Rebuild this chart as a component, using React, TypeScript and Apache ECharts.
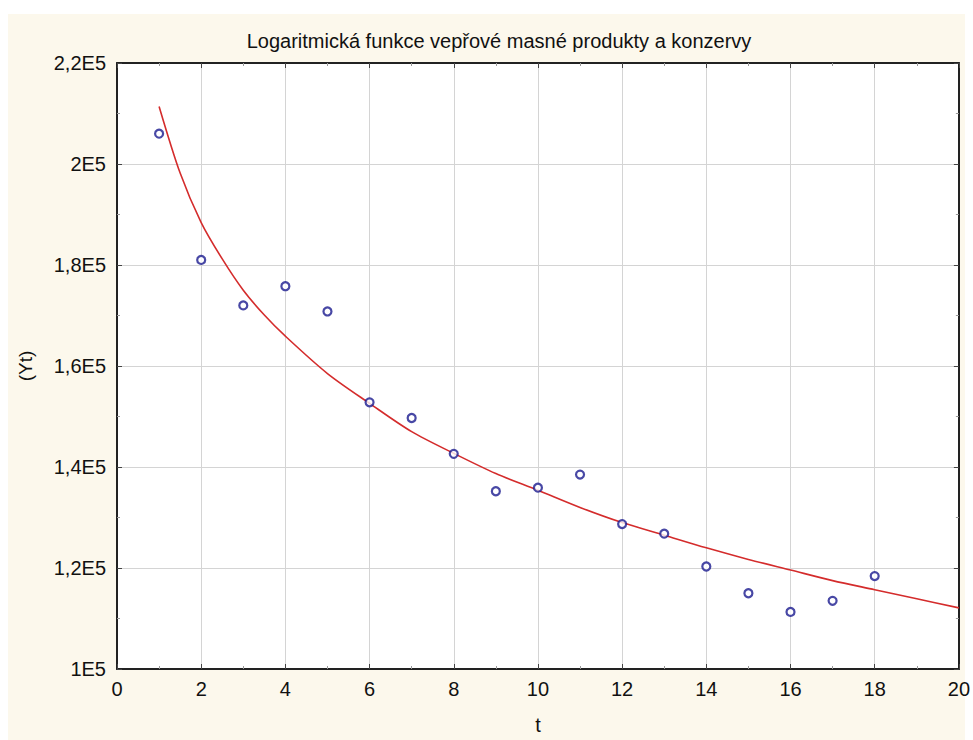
import React, { useEffect, useRef } from 'react';
import * as echarts from 'echarts';

// Observed data points (t, Yt)
const tValues = [1, 2, 3, 4, 5, 6, 7, 8, 9, 10, 11, 12, 13, 14, 15, 16, 17, 18];
const yValues = [
  206000, 181000, 172000, 175800, 170800, 152800, 149700, 142600, 135200,
  135900, 138500, 128700, 126800, 120300, 115000, 111300, 113500, 118400,
];

// Fitted logarithmic curve
const curveT = [1, 1.5, 2, 2.5, 3, 3.5, 4, 5, 6, 7, 8, 9, 10, 11, 12, 13, 14, 15, 16, 17, 18, 19, 20];
const curveValues = [
  211400, 198200, 188400, 181200, 175000, 170100, 165900, 158500, 152600, 147000, 142700,
  138700, 135400, 132000, 129000, 126500, 124000, 121700, 119600, 117500, 115700, 113900, 112100,
];

// Tick labels
const yTickLabels = ['1E5', '1,2E5', '1,4E5', '1,6E5', '1,8E5', '2E5', '2,2E5'];
const xTickLabels = ['0', '2', '4', '6', '8', '10', '12', '14', '16', '18', '20'];

const titleText = 'Logaritmická funkce vepřové masné produkty a konzervy';
const xName = 't';
const yName = '(Yt)';

export default function App() {
  const ref = useRef<HTMLDivElement>(null);

  useEffect(() => {
    if (!ref.current) return;
    const chart = echarts.init(ref.current, null, { renderer: 'svg' });
    const font = "'Liberation Sans', Arial, sans-serif";
    const axisLine = { show: true, onZero: false, lineStyle: { color: '#222', width: 2 } };
    const tick = { show: true, inside: true, length: 5, lineStyle: { color: '#444', width: 1 } };
    const minor = { show: true, splitNumber: 2, length: 3, lineStyle: { color: '#999', width: 1 } };
    const grid = { show: true, lineStyle: { color: '#d4d4d4', width: 1 } };

    chart.setOption({
      animation: false,
      backgroundColor: 'transparent',
      textStyle: { fontFamily: font },
      title: {
        text: titleText,
        left: 494,
        textAlign: 'center',
        top: 26,
        textStyle: { fontFamily: font, fontSize: 20, fontWeight: 'normal', color: '#111' },
      },
      grid: {
        left: 117,
        top: 63,
        right: 7,
        bottom: 69,
        show: true,
        backgroundColor: '#ffffff',
        borderWidth: 0,
      },
      xAxis: [
        {
          type: 'value',
          min: 0,
          max: 20,
          interval: 2,
          position: 'bottom',
          axisLine,
          axisTick: tick,
          minorTick: minor,
          splitLine: grid,
          axisLabel: {
            fontSize: 20,
            color: '#111',
            margin: 10,
            fontFamily: font,
            formatter: (v: number) => xTickLabels[Math.round(v / 2)] ?? String(v),
          },
          name: xName,
          nameLocation: 'middle',
          nameGap: 46,
          nameTextStyle: { fontSize: 20, color: '#111', fontFamily: font },
        },
        {
          type: 'value',
          min: 0,
          max: 20,
          interval: 2,
          position: 'top',
          axisLine,
          axisTick: tick,
          minorTick: minor,
          splitLine: { show: false },
          axisLabel: { show: false },
        },
      ],
      yAxis: [
        {
          type: 'value',
          min: 100000,
          max: 220000,
          interval: 20000,
          position: 'left',
          axisLine,
          axisTick: tick,
          minorTick: minor,
          splitLine: grid,
          axisLabel: {
            fontSize: 20,
            color: '#111',
            margin: 11,
            fontFamily: font,
            formatter: (v: number) => yTickLabels[Math.round((v - 100000) / 20000)] ?? String(v),
          },
          name: yName,
          nameLocation: 'middle',
          nameGap: 82,
          nameTextStyle: { fontSize: 19, color: '#111', fontFamily: font },
        },
        {
          type: 'value',
          min: 100000,
          max: 220000,
          interval: 20000,
          position: 'right',
          axisLine,
          axisTick: tick,
          minorTick: minor,
          splitLine: { show: false },
          axisLabel: { show: false },
        },
      ],
      series: [
        {
          type: 'line',
          xAxisIndex: 0,
          yAxisIndex: 0,
          data: curveT.map((t, i) => [t, curveValues[i]]),
          smooth: 0.3,
          showSymbol: false,
          symbol: 'none',
          lineStyle: { color: '#d42c2c', width: 1.6 },
          z: 3,
        },
        {
          type: 'scatter',
          xAxisIndex: 0,
          yAxisIndex: 0,
          data: tValues.map((t, i) => [t, yValues[i]]),
          symbol: 'circle',
          symbolSize: 8,
          itemStyle: { color: '#ffffff', borderColor: '#1a1a8e', borderWidth: 2.2 },
          z: 4,
        },
      ],
    });

    return () => chart.dispose();
  }, []);

  return (
    <div style={{ position: 'fixed', left: 0, top: 0, width: 973, height: 740, background: '#ffffff' }}>
      <div
        style={{ position: 'absolute', left: 8, top: 14, width: 957, height: 726, background: '#fcf8ec' }}
      />
      <div ref={ref} style={{ position: 'absolute', left: 0, top: 0, width: 973, height: 740 }} />
    </div>
  );
}
